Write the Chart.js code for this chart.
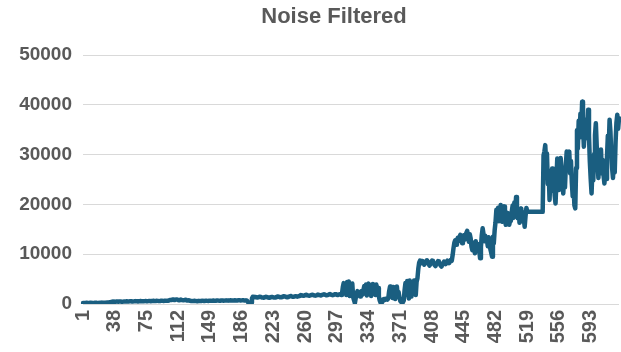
<!DOCTYPE html>
<html>
<head>
<meta charset="utf-8">
<title>Noise Filtered</title>
<script src="https://cdn.jsdelivr.net/npm/chart.js@4.4.1/dist/chart.umd.min.js"></script>
<style>
  html, body { margin: 0; padding: 0; background: #ffffff; }
  #wrap { width: 621px; height: 352px; }
</style>
</head>
<body>
<div id="wrap"><canvas id="chart" width="621" height="352"></canvas></div>
<script>
// Filtered signal, one value per sample (samples numbered from 1)
const noiseFiltered = [
  180, 210, 190, 220, 250, 230, 200, 210, 240, 260, 230, 210, 190, 220, 250, 270, 240, 220, 210, 230, 260, 240, 220, 250, 270,
  250, 230, 260, 280, 300, 320, 350, 380, 420, 460, 480, 450, 430, 470, 500, 480, 460, 490, 520, 500, 470, 450, 480, 510, 490,
  520, 540, 510, 490, 530, 560, 540, 520, 500, 530, 550, 580, 560, 540, 520, 550, 570, 590, 560, 540, 530, 560, 580, 600, 570,
  550, 580, 610, 590, 570, 600, 620, 640, 610, 590, 620, 650, 630, 600, 580, 610, 640, 660, 630, 610, 640, 670, 650, 630, 660,
  700, 760, 820, 780, 850, 900, 830, 780, 880, 920, 860, 800, 760, 840, 890, 820, 770, 730, 790, 840, 780, 720, 690, 740, 700,
  650, 620, 600, 580, 610, 640, 620, 590, 570, 600, 630, 610, 590, 620, 650, 630, 600, 620, 640, 660, 630, 610, 640, 670, 650,
  630, 660, 690, 670, 640, 660, 690, 710, 680, 650, 670, 700, 720, 690, 660, 680, 710, 730, 700, 680, 700, 720, 740, 710, 690,
  710, 730, 750, 720, 700, 720, 740, 760, 730, 710, 730, 750, 740, 720, 700, 680, 700, 500, 200, 80, 60, 300, 1100, 1450, 1400,
  1350, 1420, 1380, 1300, 1340, 1400, 1460, 1420, 1360, 1310, 1280, 1330, 1390, 1440, 1410, 1350, 1300, 1270, 1320, 1380, 1430, 1400, 1340, 1290, 1330,
  1390, 1450, 1510, 1470, 1400, 1350, 1380, 1440, 1500, 1560, 1520, 1460, 1400, 1370, 1420, 1480, 1540, 1600, 1550, 1490, 1440, 1470, 1530, 1580, 1540,
  1480, 1520, 1600, 1720, 1800, 1750, 1680, 1640, 1700, 1780, 1860, 1820, 1740, 1690, 1650, 1720, 1800, 1880, 1830, 1760, 1700, 1680, 1740, 1820, 1900,
  1850, 1780, 1720, 1760, 1830, 1900, 1960, 1880, 1800, 1750, 1790, 1860, 1940, 2000, 1920, 1840, 1780, 1820, 1900, 1980, 1920, 1850, 1800, 1860, 1940,
  1880, 1820, 2100, 3400, 4200, 2600, 3900, 1800, 4400, 2900, 4500, 1600, 3700, 2300, 4100, 1400, 800, 200, 1200, 2000, 2600, 1700, 2400, 1500, 2200,
  2600, 1900, 2800, 3600, 2200, 3900, 1700, 3400, 4100, 2500, 3800, 1600, 3300, 4000, 2100, 3600, 1800, 3900, 2700, 3200, 1500, 700, 250, 150, 400,
  900, 1000, 850, 950, 1100, 900, 1200, 2600, 3500, 1800, 3300, 1200, 3400, 2200, 1000, 3100, 3500, 1600, 2400, 1300, 600, 400, 500, 350, 700,
  2800, 4200, 1900, 4600, 2500, 1100, 4700, 3200, 1500, 4400, 2300, 4700, 3800, 1800, 4500, 5200, 7100, 8300, 8700, 8500, 8200, 8600, 8400, 7900, 8300,
  8600, 8800, 8500, 8100, 7700, 8000, 8400, 8700, 8500, 8200, 7800, 7600, 8000, 8300, 8600, 8400, 8100, 7700, 7500, 7900, 8200, 8500, 8300, 8000, 8400,
  8700, 8500, 8200, 8600, 8900, 8700, 9800, 11200, 12300, 12800, 11900, 12600, 13300, 12700, 13500, 13900, 12800, 12200, 13000, 13800, 12900, 13600, 14300, 14700, 13400,
  12500, 14000, 13200, 11500, 10800, 12300, 11100, 10200, 12600, 11400, 10600, 12000, 10900, 9200, 11500, 13800, 15200, 14100, 12600, 13700, 12900, 12800, 11600, 13400, 12200,
  11000, 10300, 9500, 13500, 12200, 14800, 16400, 18900, 17800, 19300, 16600, 18200, 19900, 17400, 16500, 18700, 19600, 17100, 15900, 16800, 18300, 17200, 15900, 16700, 17900,
  18600, 19800, 17300, 20400, 19100, 21500, 19700, 17200, 18900, 16300, 17800, 19200, 16600, 18400, 17100, 15500, 17600, 19300, 18600, 18500, 18500, 18500, 18500, 18500, 18500,
  18500, 18500, 18500, 18500, 18500, 18500, 18500, 18500, 18500, 18500, 18500, 18500, 29800, 30600, 31900, 28600, 30200, 24100, 26800, 20900, 25300, 22700, 27200, 24500, 26100,
  21800, 20200, 24600, 29200, 25800, 22900, 26400, 29300, 27100, 24300, 22200, 25600, 23400, 27800, 30600, 28100, 29900, 30600, 26200, 28700, 24400, 21600, 23500, 19800, 19200,
  27300, 34900, 31200, 36800, 33400, 38200, 35100, 40600, 36200, 31600, 34800, 33200, 37100, 35400, 39000, 33800, 28600, 25100, 22200, 26900, 24800, 30100, 33900, 36300, 31800,
  28400, 25300, 30800, 27600, 31000, 26200, 28900, 25800, 24200, 27300, 25100, 29600, 33800, 31200, 37000, 34600, 30100, 27200, 25300, 29800, 26400, 32500, 36400, 38000, 35200, 37300
];

// Sample numbers along the category axis
const sampleNumbers = noiseFiltered.map((_, i) => String(i + 1));

// Sample numbers that get a label on the horizontal axis
const xTickLabels = ['1', '38', '75', '112', '149', '186', '223', '260', '297', '334', '371', '408', '445', '482', '519', '556', '593'];

// Vertical axis range and step
const yMin = 0;
const yMax = 50000;
const yStep = 10000;

const textColor = '#595959';
const gridColor = '#d9d9d9';
const lineColor = '#1a5e80';
const fontFamily = '"Liberation Sans", Arial, Helvetica, sans-serif';

const plotLeft = 83;
const titleShift = -17;

// Nudge the title horizontally after layout so it sits a little left of the plot centre
const titleOffset = {
  id: 'titleOffset',
  afterLayout(chart) {
    const t = chart.titleBlock;
    if (t) {
      t.left += titleShift;
      t.right += titleShift;
    }
  }
};

new Chart(document.getElementById('chart'), {
  type: 'line',
  data: {
    labels: sampleNumbers,
    datasets: [{
      label: 'Noise Filtered',
      data: noiseFiltered,
      borderColor: lineColor,
      backgroundColor: lineColor,
      borderWidth: 4.5,
      borderJoinStyle: 'round',
      borderCapStyle: 'round',
      pointRadius: 0,
      pointHoverRadius: 0,
      tension: 0,
      fill: false
    }]
  },
  plugins: [titleOffset],
  options: {
    responsive: false,
    animation: false,
    events: [],
    layout: { padding: { top: 0, right: 2, bottom: 0, left: 0 } },
    plugins: {
      legend: { display: false },
      tooltip: { enabled: false },
      title: {
        display: true,
        text: 'Noise Filtered',
        fullSize: false,
        color: textColor,
        font: { family: fontFamily, size: 22, weight: 'bold' },
        lineHeight: 1.2,
        padding: { top: 4, bottom: 24.6 }
      }
    },
    scales: {
      x: {
        type: 'category',
        offset: false,
        grid: { display: false, drawTicks: false },
        border: { display: false },
        ticks: {
          autoSkip: false,
          maxRotation: 90,
          minRotation: 90,
          padding: 6,
          color: textColor,
          font: { family: fontFamily, size: 20, weight: 'bold' }
        },
        afterBuildTicks(scale) {
          scale.ticks = scale.ticks.filter(t => xTickLabels.includes(sampleNumbers[t.value]));
        },
        afterFit(scale) {
          scale.height = 48;
          scale.paddingLeft = 0;
          scale.paddingRight = 0;
        }
      },
      y: {
        min: yMin,
        max: yMax,
        grid: { color: gridColor, lineWidth: 1, drawTicks: false },
        border: { display: false },
        ticks: {
          stepSize: yStep,
          padding: 11,
          color: textColor,
          font: { family: fontFamily, size: 19, weight: 'bold' },
          callback: (value) => String(value)
        },
        afterFit(scale) {
          scale.width = plotLeft;
        }
      }
    }
  }
});
</script>
</body>
</html>
